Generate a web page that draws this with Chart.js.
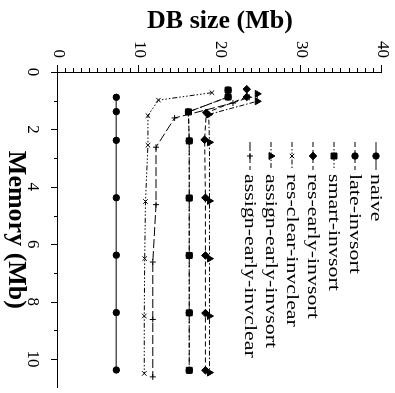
<!DOCTYPE html>
<html>
<head>
<title>DB size vs memory</title>
<script src="https://cdn.jsdelivr.net/npm/chart.js@4.4.0/dist/chart.umd.min.js"></script>
<style>
    body { margin: 0; background: #fff; overflow: hidden; }
    /* the chart is drawn upright and then turned a quarter turn clockwise */
    #wrap {
        position: absolute; left: 0; top: 0;
        width: 393px; height: 395px;
        transform-origin: 0 0;
        transform: translate(395px, 0) rotate(90deg);
    }
</style>
</head>
<body>
<div id="wrap"><canvas id="chart" width="393" height="395"></canvas></div>
<script>
// axis ticks
const memTicks = [0, 2, 4, 6, 8, 10];
const dbTicks = [0, 10, 20, 30, 40];

// series: memory (Mb) and DB size (Mb)
const naiveMem = [0.88, 1.38, 2.38, 4.38, 6.38, 8.38, 10.38];
const naiveDb  = [7.2, 7.2, 7.2, 7.2, 7.2, 7.2, 7.2];

const lateMem = [0.63, 0.87, 1.39, 2.40, 4.39, 6.39, 8.39, 10.39];
const lateDb  = [21.0, 21.0, 16.1, 16.2, 16.2, 16.2, 16.2, 16.2];

const smartMem = [0.63, 0.87, 1.39, 2.40, 4.39, 6.39, 8.39, 10.39];
const smartDb  = [21.0, 21.0, 16.1, 16.2, 16.2, 16.2, 16.2, 16.2];

const resEarlyMem = [0.60, 0.87, 1.42, 2.36, 4.38, 6.39, 8.40, 10.39];
const resEarlyDb  = [23.3, 23.3, 18.3, 18.1, 18.2, 18.2, 18.2, 18.2];

const resClearMem = [0.72, 0.98, 1.52, 2.55, 4.51, 6.50, 8.50, 10.50];
const resClearDb  = [19.0, 12.4, 11.1, 11.1, 10.8, 10.7, 10.65, 10.65];

const assignSortMem = [0.76, 1.02, 1.48, 2.45, 4.49, 6.50, 8.50, 10.47];
const assignSortDb  = [24.6, 24.6, 18.6, 18.7, 18.7, 18.7, 18.7, 18.7];

const assignClearMem = [0.88, 1.08, 1.60, 2.62, 4.62, 6.62, 8.62, 10.62];
const assignClearDb  = [23.6, 21.6, 14.4, 12.1, 12.1, 11.7, 11.7, 11.7];

const serif = 'Liberation Serif';

function pts(mem, db) {
    return mem.map((m, i) => ({ x: m, y: db[i] }));
}

function series(label, mem, db, dash, style, radius, order) {
    return {
        label: label,
        data: pts(mem, db),
        showLine: true,
        borderColor: '#000',
        borderWidth: 1,
        borderDash: dash,
        pointStyle: style,
        pointRadius: radius,
        pointHoverRadius: radius,
        pointBackgroundColor: '#000',
        pointBorderColor: '#000',
        pointBorderWidth: 1,
        order: order || 0
    };
}

const datasets = [
    series('naive', naiveMem, naiveDb, [], 'circle', 3.2),
    series('late-invsort', lateMem, lateDb, [5, 3], 'circle', 3.2, 1),
    series('smart-invsort', smartMem, smartDb, [5, 2, 1.5, 2, 1.5, 2], 'rect', 4.2),
    series('res-early-invsort', resEarlyMem, resEarlyDb, [5, 3], 'rectRot', 3.8),
    series('res-clear-invclear', resClearMem, resClearDb, [5, 2, 1.5, 2, 1.5, 2, 1.5, 2], 'crossRot', 3.2),
    series('assign-early-invsort', assignSortMem, assignSortDb, [5, 2, 1.5, 2], 'triangle', 4),
    series('assign-early-invclear', assignClearMem, assignClearDb, [9, 3], 'cross', 3)
];
// the naive line is a softer grey in the original
datasets[0].borderColor = '#555';
datasets[0].borderWidth = 1.4;

// outward minor/major ticks and the legend inside the plot
const extras = {
    id: 'extras',
    afterDraw(chart) {
        const ctx = chart.ctx;
        const xs = chart.scales.x, ys = chart.scales.y;
        ctx.save();
        ctx.strokeStyle = '#000';
        ctx.lineWidth = 1;
        ctx.beginPath();
        for (let v = 0; v <= 10; v++) {
            const px = Math.round(xs.getPixelForValue(v)) + 0.5;
            const len = memTicks.includes(v) ? 7 : 4;
            ctx.moveTo(px, xs.top);
            ctx.lineTo(px, xs.top + len);
        }
        for (let v = 0; v <= 40; v++) {
            const py = Math.round(ys.getPixelForValue(v)) + 0.5;
            const len = dbTicks.includes(v) ? 7 : 4;
            ctx.moveTo(ys.right, py);
            ctx.lineTo(ys.right - len, py);
        }
        ctx.stroke();

        // legend
        const rowY = [19, 40, 61, 82, 103, 124, 145];
        chart.data.datasets.forEach((ds, i) => {
            const y = rowY[i];
            ctx.strokeStyle = ds.borderColor;
            ctx.lineWidth = ds.borderWidth;
            ctx.setLineDash(ds.borderDash);
            ctx.beginPath();
            ctx.moveTo(142, y);
            ctx.lineTo(170, y);
            ctx.stroke();
            ctx.setLineDash([]);
            ctx.strokeStyle = '#000';
            ctx.lineWidth = 1;
            ctx.fillStyle = '#000';
            Chart.helpers.drawPoint(ctx, {
                pointStyle: ds.pointStyle,
                radius: ds.pointRadius,
                rotation: 0,
                borderWidth: 1
            }, 156, y);
            ctx.font = '16px "' + serif + '"';
            ctx.textBaseline = 'middle';
            ctx.textAlign = 'left';
            ctx.save();
            ctx.translate(174, y + 1);
            ctx.scale(1.37, 1);
            ctx.fillText(ds.label, 0, 0);
            ctx.restore();
        });
        ctx.restore();
    }
};

new Chart(document.getElementById('chart'), {
    type: 'scatter',
    data: { datasets: datasets },
    plugins: [extras],
    options: {
        responsive: false,
        animation: false,
        devicePixelRatio: 1,
        layout: { padding: { top: 13, right: 0, left: 0, bottom: 0 } },
        plugins: { legend: { display: false }, tooltip: { enabled: false } },
        scales: {
            x: {
                type: 'linear',
                min: 0,
                max: 11,
                afterBuildTicks: s => { s.ticks = memTicks.map(v => ({ value: v })); },
                afterFit: s => { s.height = 58; s.paddingLeft = 0; s.paddingRight = 0; },
                border: { color: '#000', width: 1 },
                grid: { drawOnChartArea: false, drawTicks: false },
                ticks: { color: '#000', padding: 15, maxRotation: 0, font: { family: serif, size: 17 } },
                title: {
                    display: true,
                    text: 'Memory (Mb)',
                    color: '#000',
                    font: { family: serif, size: 26, weight: 'bold', lineHeight: 1 },
                    padding: { top: 0, bottom: 3 }
                }
            },
            y: {
                type: 'linear',
                min: 0,
                max: 40,
                afterBuildTicks: s => { s.ticks = dbTicks.map(v => ({ value: v })); },
                afterFit: s => { s.width = 72; s.paddingTop = 0; s.paddingBottom = 0; },
                border: { color: '#000', width: 1 },
                grid: { drawOnChartArea: false, drawTicks: false },
                ticks: { color: '#000', padding: 14, font: { family: serif, size: 17 } },
                title: {
                    display: true,
                    text: 'DB size (Mb)',
                    color: '#000',
                    font: { family: serif, size: 26, weight: 'bold', lineHeight: 1 },
                    padding: { top: 8, bottom: 0 }
                }
            }
        }
    }
});
</script>
</body>
</html>
